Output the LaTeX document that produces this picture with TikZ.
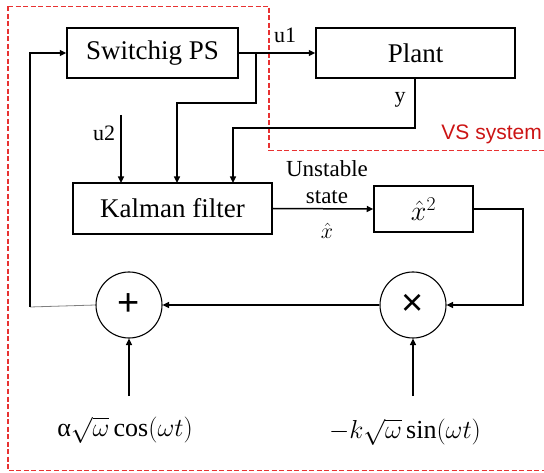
\documentclass[tikz,border=0pt]{standalone}
\usepackage{fix-cm}
\usepackage{fontspec}
\setmainfont{Liberation Serif}
\newfontfamily\sansf{Liberation Sans}
\usetikzlibrary{arrows.meta}
\definecolor{vsred}{RGB}{232,50,50}
\definecolor{vstext}{RGB}{204,20,20}
\newcommand{\fs}[1]{\fontsize{#1}{#1}\selectfont}
\begin{document}
\begin{tikzpicture}[x=1pt,y=-1pt,
  blk/.style={draw, line width=1.5pt, inner sep=0pt, font=\fs{27}},
  sumc/.style={draw, circle, line width=1.1pt, minimum size=66pt, inner sep=0pt},
  ln/.style={line width=1.5pt},
  arr/.style={line width=1.5pt, -{Triangle[length=6.5pt,width=6pt]}},
  lbl/.style={inner sep=0pt, font=\fs{22}},
  reddash/.style={draw=vsred, line width=1.3pt, dash pattern=on 5pt off 2.5pt}
]
\useasboundingbox (0,0) rectangle (544,473);

% red dashed VS system boundary
\draw[reddash] (8,6.5) -- (269,6.5) -- (269,150.5) -- (546,150.5);
\draw[reddash] (8,6.5) -- (8,470.5) -- (546,470.5);
\node[anchor=east, inner sep=0pt, text=vstext, font=\sansf\fs{21}] (vs) at (542,134) {VS system};

% blocks
\node[blk, minimum width=171pt, minimum height=50pt] (sw) at (152.5,53) {Switchig PS};
\node[blk, minimum width=199pt, minimum height=50pt] (plant) at (415.5,53) {Plant};
\node[blk, minimum width=199pt, minimum height=51pt] (kal) at (172.5,208.5) {Kalman filter};
\node[blk, minimum width=99pt, minimum height=46pt, font=\fs{28}] (sq) at (423.5,209) {$\hat{x}^2$};
\node[sumc, font=\sansf\fs{38}] (plus) at (129,305) {+};
\node[sumc, font=\sansf\fs{38}] (times) at (413,305) {×};

% coordinates
\coordinate (b1) at (256,53);
\coordinate (p1) at (415,78);
\coordinate (u2s) at (121,115);
\coordinate (k1) at (121,183);
\coordinate (k2) at (177,183);
\coordinate (k3) at (233,183);
\coordinate (fb) at (30,307);
\coordinate (a1) at (129,396);
\coordinate (a2) at (413,396);

% connectors
\draw[arr] (sw.east) -- (plant.west);
\draw[arr] (b1) -- ++(0,50) -| (k2);
\draw[arr] (p1) -- ++(0,50) -| (k3);
\draw[arr] (u2s) -- (k1);
\draw[arr] (kal.east) -- (sq.west);
\draw[arr] (sq.east) -- ++(49,0) |- (times.east);
\draw[arr] (times.west) -- (plus.east);
\draw[gray, line width=0.8pt] (plus.west) -- (fb);
\draw[arr] (fb) |- (sw.west);
\draw[arr] (a1) -- (plus.south);
\draw[arr] (a2) -- (times.south);

% labels
\node[lbl] (u1l) at (285,35) {u1};
\node[lbl] (u2l) at (104,133) {u2};
\node[lbl] (yl) at (400,100) {y};
\node[lbl, font=\fs{23}] (us) at (327,169) {Unstable};
\node[lbl, font=\fs{23}] (st) at (327,197) {state};
\node[lbl, font=\fs{22}] (xh) at (327,231) {$\hat{x}$};
\node[lbl, font=\fs{26}] (cosl) at (125,430) {α$\sqrt{\omega}\cos(\omega t)$};
\node[lbl, font=\fs{26}] (sinl) at (405,432) {$-k\sqrt{\omega}\sin(\omega t)$};
\end{tikzpicture}
\end{document}
